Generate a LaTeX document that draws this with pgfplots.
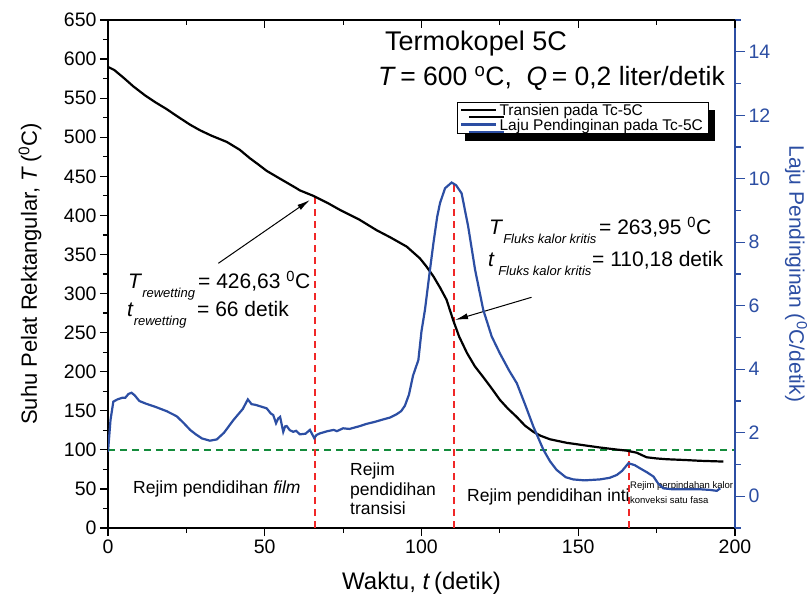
\documentclass[border=0pt]{standalone}
\usepackage{pgfplots}
\pgfplotsset{compat=1.18}
\usepackage{fontspec}
\setmainfont{Liberation Sans}
\usetikzlibrary{arrows.meta,shadows}
\definecolor{cblue}{RGB}{44,78,163}
\definecolor{cred}{RGB}{240,40,40}
\definecolor{cgreen}{RGB}{20,140,60}
\newcommand{\fs}[1]{\fontsize{#1bp}{#1bp}\selectfont}
\newcommand{\sub}[1]{\raisebox{-9bp}{\fs{13}\itshape #1}}
\begin{document}
\begin{tikzpicture}
\begin{axis}[
  name=main,
  scale only axis, width=627bp, height=508bp,
  xmin=0,xmax=200,ymin=0,ymax=650,
  axis line style={line width=1.6bp},
  xtick={0,50,...,200}, minor x tick num=1,
  ytick={0,50,...,650}, minor y tick num=1,
  xtick pos=bottom, ytick pos=left,
  tick align=outside,
  major tick length=8bp, minor tick length=5bp,
  every tick/.style={line width=1.2bp,black},
  tick label style={font=\fs{19.5}},
  /pgf/number format/assume math mode=true,
  xlabel={Waktu, \textit{t}\,(detik)},
  ylabel={Suhu Pelat Rektangular, \textit{T}\,(\textsuperscript{0}C)},
  x label style={font=\fs{24}, at={(axis description cs:0.5,-0.122)}, anchor=base},
  y label style={font=\fs{22}, at={(axis description cs:-0.1244,0.5)}, anchor=center},
  clip=false, no markers,
]
% reference lines
\addplot[color=cgreen, line width=1.7bp, dash pattern=on 7bp off 5bp] coordinates {(0,100) (200,100)};
\addplot[color=cred, line width=1.8bp, dash pattern=on 7bp off 5bp] coordinates {(66,0) (66,424)};
\addplot[color=cred, line width=1.9bp, dash pattern=on 7bp off 5bp] coordinates {(110.25,0) (110.25,441)};
\addplot[color=cred, line width=1.9bp, dash pattern=on 7bp off 5bp] coordinates {(166.1,0) (166.1,100)};
% temperature transient
\addplot[black, line width=2.2bp] coordinates {
(0,590) (2,586) (5,576) (8.1,565) (12,553) (15,545) (18.7,536) (22,527) (26.2,516)
(29.3,509) (33,502) (37.9,494) (42,484) (45.3,473) (48,465) (50.6,457) (54,449)
(57,442) (60,435) (61.2,432) (65.5,425) (70,416) (74,407) (80,395) (85.7,381)
(90,372) (93.1,365) (95.3,360) (99.5,345) (101.5,335) (103.8,322) (106,307)
(108,292) (110.1,266) (112,245) (114.5,224) (117,207) (119.7,193) (122.5,178)
(125,164) (127.5,153) (130.4,142) (133,131) (135.7,123) (138,118) (141,113.5)
(146.3,109) (151.6,106) (156.9,103) (162,100.5) (165.4,99) (168.6,96.4)
(171.8,90.5) (175,89) (178.2,88) (184,87) (188.8,86) (196.3,85)};
% annotations
\draw[-{Latex[length=13bp,width=6bp]}, line width=1bp] (axis cs:35.2,338.7) -- (axis cs:64.4,419.7);
\draw[-{Latex[length=13bp,width=6bp]}, line width=1bp] (axis cs:135.1,295.2) -- (axis cs:110.7,266.2);
\node[anchor=base west, inner sep=0pt, font=\fs{27}] at (axis description cs:0.4418,0.9409) {Termokopel 5C};
\node[anchor=base east, inner sep=0pt, font=\fs{26.5}] at (axis description cs:0.9841,0.8701) {\textit{T}\,= 600 \textsuperscript{o}C, \ \textit{Q}\,= 0,2 liter/detik};
\node[anchor=base west, inner sep=0pt, font=\fs{21}] at (axis description cs:0.0319,0.4705) {\textit{T}\sub{rewetting}};
\node[anchor=base west, inner sep=0pt, font=\fs{21}] at (axis description cs:0.1435,0.4705) {= 426,63 \textsuperscript{0}C};
\node[anchor=base west, inner sep=0pt, font=\fs{21}] at (axis description cs:0.0303,0.4154) {\textit{t}\sub{rewetting}};
\node[anchor=base west, inner sep=0pt, font=\fs{21}] at (axis description cs:0.1419,0.4154) {= 66 detik};
\node[anchor=base west, inner sep=0pt, font=\fs{21}] at (axis description cs:0.6077,0.5768) {\textit{T}\sub{Fluks kalor kritis}};
\node[anchor=base west, inner sep=0pt, font=\fs{21}] at (axis description cs:0.7831,0.5768) {= 263,95 \textsuperscript{0}C};
\node[anchor=base west, inner sep=0pt, font=\fs{21}] at (axis description cs:0.6061,0.5138) {\textit{t}\,\sub{Fluks kalor kritis}};
\node[anchor=base west, inner sep=0pt, font=\fs{21}] at (axis description cs:0.7719,0.5138) {= 110,18 detik};
\node[anchor=base west, inner sep=0pt, font=\fs{17.5}] at (axis description cs:0.0399,0.0689) {Rejim pendidihan \textit{film}};
\node[anchor=base west, inner sep=0pt, font=\fs{17.5}] at (axis description cs:0.386,0.1043) {Rejim};
\node[anchor=base west, inner sep=0pt, font=\fs{17.5}] at (axis description cs:0.386,0.063) {pendidihan};
\node[anchor=base west, inner sep=0pt, font=\fs{17.5}] at (axis description cs:0.386,0.0256) {transisi};
\node[anchor=base west, inner sep=0pt, font=\fs{17.5}] at (axis description cs:0.5726,0.0512) {Rejim pendidihan inti};
\node[anchor=base west, inner sep=0pt, font=\fs{9.5}] at (axis description cs:0.8325,0.0787) {Rejim perpindahan kalor};
\node[anchor=base west, inner sep=0pt, font=\fs{9.5}] at (axis description cs:0.8325,0.0492) {konveksi satu fasa};
\end{axis}
\begin{axis}[
  scale only axis, width=627bp, height=508bp,
  xmin=0,xmax=200, ymin=-1,ymax=15,
  axis x line=none, axis y line*=right,
  y axis line style={cblue, line width=1.6bp},
  ytick={0,2,...,14}, minor ytick={-1,1,...,15},
  tick align=outside,
  major tick length=10bp, minor tick length=5.5bp,
  every tick/.style={line width=1.2bp,cblue},
  yticklabel style={cblue, font=\fs{19.5}},
  /pgf/number format/assume math mode=true,
  ylabel={Laju Pendinginan (\textsuperscript{0}C/detik)},
  y label style={cblue, font=\fs{21}, at={(axis description cs:1.0973,0.5)}, anchor=center, rotate=180},
  no markers,
  legend style={at={(0.5566,0.8386)}, anchor=north west, font=\fs{15.5}, draw=black, line width=0.8bp,
    fill=white, drop shadow={shadow xshift=7.5bp, shadow yshift=-7.5bp, fill=black, opacity=1},
    row sep=1bp, inner xsep=3bp, inner ysep=1.5bp,
    nodes={inner ysep=0.5bp}},
  legend cell align=left,
  legend image code/.code={\draw[#1] (0bp,1bp) -- (35bp,1bp);},
]
\addlegendimage{black, line width=2.2bp}
\addlegendentry{Transien pada Tc-5C}
\addplot[cblue, line width=2.2bp] coordinates {
(0,1.4) (0.8,2.4) (1.7,2.98) (3,3.05) (4.5,3.1) (5.5,3.1) (6.5,3.22) (7.5,3.26)
(8.5,3.18) (10,3.0) (12,2.92) (15,2.82) (18.7,2.68) (21.9,2.52) (24,2.32) (26.2,2.09)
(28,1.95) (30,1.82) (32.5,1.75) (34.7,1.79) (37,2.0) (40,2.4) (43,2.75) (44.6,3.05)
(45.8,2.9) (47,2.88) (50.6,2.77) (52,2.6) (52.7,2.56) (53.6,2.3) (54.3,2.45) (54.9,2.5)
(55.9,2.03) (56.5,2.2) (57,2.21) (58,2.08) (59.1,2.03) (60,2.06) (61.2,1.95) (63,1.97)
(64.4,2.09) (65.8,1.83) (66.5,1.93) (67.6,1.98) (70,2.05) (72,2.09) (73,2.05) (75,2.14)
(77,2.12) (80,2.2) (82.5,2.28) (85,2.34) (87.8,2.42) (90,2.48) (92,2.58) (93.5,2.68)
(94.7,2.85) (96,3.2) (97.3,3.8) (99,4.29) (100,5.2) (101.1,5.87) (102.7,7.13) (103.8,7.97)
(105,8.8) (105.9,9.23) (107.5,9.7) (109.6,9.88) (111,9.8) (112.8,9.54) (114.9,8.49)
(117.1,7.13) (119.7,5.87) (122.4,5.03) (125,4.5) (128,3.95) (130.4,3.56) (133,2.9)
(135.7,2.19) (138.9,1.46) (141,1.1) (143.1,0.83) (146,0.6) (148.4,0.53) (152,0.5)
(156.9,0.53) (160,0.58) (162.3,0.67) (164,0.8) (166,1.04) (168,0.98) (169.7,0.88)
(172,0.75) (174,0.62) (175.5,0.4) (177.1,0.25) (180,0.22) (183.5,0.22) (188.8,0.22)
(192,0.2) (194.2,0.17) (195.3,0.25)};
\addlegendentry{Laju Pendinginan pada Tc-5C}
\end{axis}
\begin{axis}[
  scale only axis, width=627bp, height=508bp,
  xmin=0,xmax=200,ymin=0,ymax=1,
  axis x line*=top, axis y line=none,
  x axis line style={line width=1.6bp},
  xtick={0,50,...,200}, minor x tick num=1, xticklabels={},
  tick align=inside,
  major tick length=8bp, minor tick length=5bp,
  every tick/.style={line width=1.2bp,black},
]
\end{axis}
\pgfresetboundingbox
\path (main.south west) ++(-108bp,-76bp) rectangle ++(812bp,604bp);
\end{tikzpicture}
\end{document}
